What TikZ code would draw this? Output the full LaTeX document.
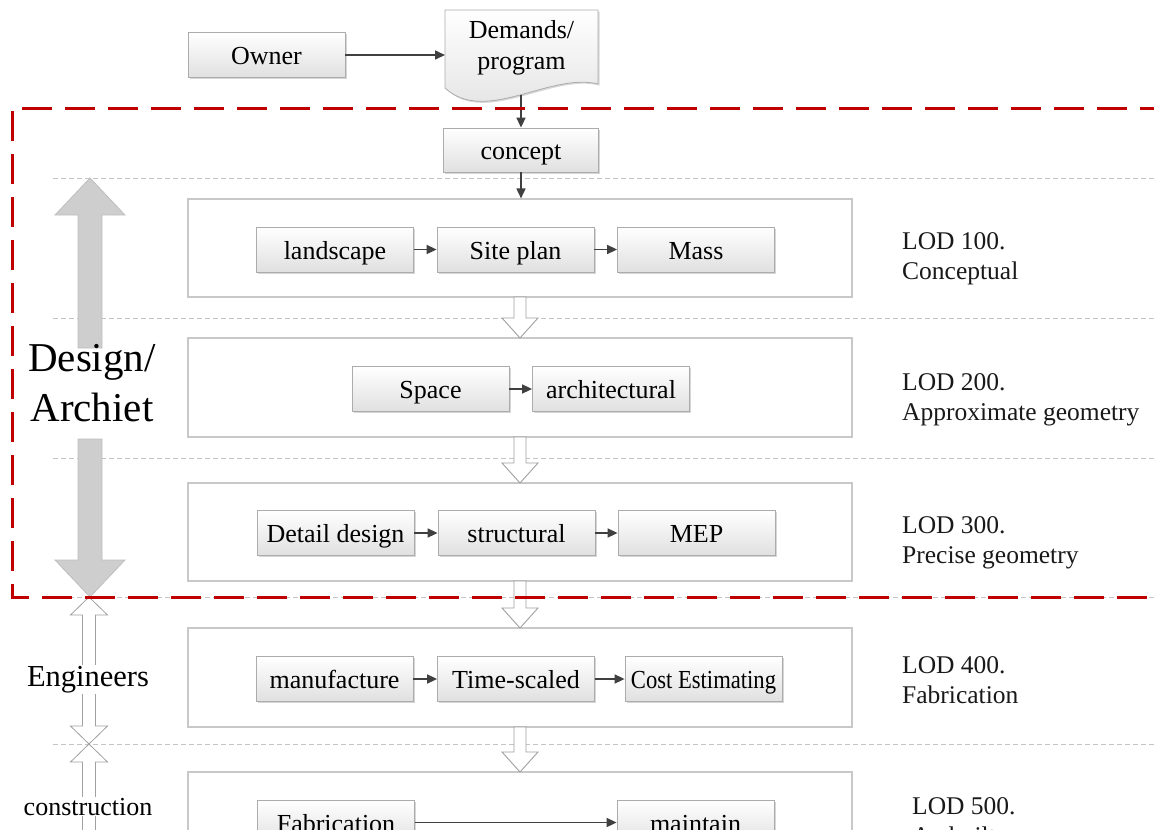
\documentclass[tikz,border=0pt]{standalone}
\usepackage{fontspec}
\setmainfont{Liberation Serif}
\usepackage{graphicx}
\usetikzlibrary{arrows.meta,shadows}

\definecolor{framered}{RGB}{192,0,0}
\definecolor{sepgray}{RGB}{196,196,196}
\definecolor{boxedge}{RGB}{172,172,172}
\definecolor{boxlow}{RGB}{224,224,224}
\definecolor{contedge}{RGB}{200,200,200}
\definecolor{arrowink}{RGB}{64,64,64}
\definecolor{bigarrow}{RGB}{206,206,206}
\definecolor{bigarrowedge}{RGB}{190,190,190}
\definecolor{hollowedge}{RGB}{160,160,160}

% block arrow pointing down between two stage frames
\newcommand\stagearrow[2]{%
  \draw[hollow] (514,#1) -- (526,#1) -- (526,#2-20) -- (538,#2-20) -- (520,#2)
    -- (502,#2-20) -- (514,#2-20) -- cycle;}

\begin{document}
\begin{tikzpicture}[x=1pt,y=-1pt,
  txt/.style={font=\fontsize{26}{31}\selectfont},
  stage/.style={draw=contedge, line width=1.1pt, fill=white, minimum width=664pt, inner sep=0pt},
  task/.style={txt, draw=boxedge, line width=0.8pt, top color=white, bottom color=boxlow,
    minimum width=157pt, minimum height=45pt, inner sep=0pt, text height=20pt, text depth=1pt,
    drop shadow={shadow xshift=1.5pt, shadow yshift=-1.5pt, fill=black!45, opacity=0.35}},
  docshape/.style={draw=boxedge, line width=0.8pt, top color=white, bottom color=boxlow,
    drop shadow={shadow xshift=1.5pt, shadow yshift=-1.5pt, fill=black!45, opacity=0.35}},
  flow/.style={draw=arrowink, line width=1.6pt, -{Triangle[length=10pt,width=9pt]}},
  hollow/.style={draw=hollowedge, line width=0.9pt, fill=white},
  thinarrow/.style={draw=hollowedge, line width=0.8pt, fill=white},
  levelsep/.style={draw=sepgray, line width=1pt, dash pattern=on 5pt off 3pt},
  lod/.style={font=\fontsize{25.5}{30}\selectfont, align=left, inner sep=0pt, anchor=north west, text=black!90},
  sidelabel/.style={fill=white, inner sep=1pt, anchor=base}
]
\useasboundingbox (0,0) rectangle (1154,830);
\clip (0,0) rectangle (1154,830);

% level separators
\foreach \yy in {178,318,458,597,744}
  \draw[levelsep] (53,\yy) -- (1154,\yy);

% stage frames
\node[stage, minimum height=98pt] (lod1) at (520,248) {};
\node[stage, minimum height=99pt] (lod2) at (520,387.5) {};
\node[stage, minimum height=98pt] (lod3) at (520,532) {};
\node[stage, minimum height=99pt] (lod4) at (520,677.5) {};
\node[stage, minimum height=99pt] (lod5) at (520,821.5) {};

% block arrows between the stages
\stagearrow{297}{338}
\stagearrow{437}{483}
\stagearrow{581}{628}
\stagearrow{727}{772}

% owner and programme
\node[task] (owner) at (266.5,55) {Owner};
\draw[docshape] (445,10) -- (598,10) -- (598,84)
  .. controls (550,72) and (485,125) .. (445,88) -- cycle;
\node[txt, align=center, inner sep=0pt] (dem) at (521.5,48) {Demands/\\program};
\coordinate (demb) at (521,95);
\node[task, minimum width=155pt, minimum height=44pt] (concept) at (521,150) {concept};
\coordinate (demin) at (445,55);
\draw[flow] (owner.east) -- (demin);
\draw[flow] (demb) -- (concept.north);
\draw[flow] (concept.south) -- (concept.south |- lod1.north);

% LOD 100
\node[task] (land) at (335,249.5) {landscape};
\node[task] (site) at (515.5,249.5) {Site plan};
\node[task] (mass) at (696,249.5) {Mass};
\draw[flow] (land.east) -- (site.west);
\draw[flow] (site.east) -- (mass.west);

% LOD 200
\node[task] (space) at (430.5,389) {Space};
\node[task] (arch) at (611,389) {architectural};
\draw[flow] (space.east) -- (arch.west);

% LOD 300
\node[task] (detail) at (335.5,533) {Detail design};
\node[task] (struct) at (516.5,533) {structural};
\node[task] (mep) at (696.5,533) {MEP};
\draw[flow] (detail.east) -- (struct.west);
\draw[flow] (struct.east) -- (mep.west);

% LOD 400
\node[task] (manu) at (334.5,679) {manufacture};
\node[task] (timesc) at (516,679) {Time-scaled};
\node[task] (cost) at (703.5,679) {\scalebox{0.87}[1]{Cost Estimating}};
\draw[flow] (manu.east) -- (timesc.west);
\draw[flow] (timesc.east) -- (cost.west);

% LOD 500
\node[task] (fab) at (336,822.5) {Fabrication};
\node[task] (maint) at (695.5,822.5) {maintain};
\draw[flow] (fab.east) -- (maint.west);

% design / architect span
\draw[fill=bigarrow, draw=bigarrowedge, line width=0.8pt]
  (90,178) -- (125,215) -- (102,215) -- (102,348) -- (78,348) -- (78,215) -- (55,215) -- cycle;
\draw[fill=bigarrow, draw=bigarrowedge, line width=0.8pt]
  (78,439) -- (102,439) -- (102,560) -- (125,560) -- (90,597) -- (55,560) -- (78,560) -- cycle;
\node[font=\fontsize{41}{50}\selectfont, align=center, inner sep=0pt, anchor=north] (role) at (92,344.5) {Design/\\Archiet};

% engineers and construction spans
\draw[thinarrow] (89,597) -- (107.5,615) -- (95.5,615) -- (95.5,726) -- (107.5,726) -- (89,744)
  -- (70.5,726) -- (82.5,726) -- (82.5,615) -- (70.5,615) -- cycle;
\draw[thinarrow] (89,744) -- (107.5,762) -- (95.5,762) -- (95.5,850) -- (82.5,850)
  -- (82.5,762) -- (70.5,762) -- cycle;
\node[sidelabel, font=\fontsize{30.5}{36}\selectfont] (eng) at (88,686) {Engineers};
\node[sidelabel, txt] (cons) at (88,815) {construction};

% design phase frame
\draw[framered, line width=3pt, dash pattern=on 30pt off 13pt]
  (1170,108) -- (12,108) -- (12,597) -- (1170,597);

% level of development labels
\node[lod] (t1) at (902,232) {LOD 100.\\Conceptual};
\node[lod] (t2) at (902,373) {LOD 200.\\Approximate geometry};
\node[lod] (t3) at (902,516) {LOD 300.\\Precise geometry};
\node[lod] (t4) at (902,656) {LOD 400.\\Fabrication};
\node[lod] (t5) at (912,797.8) {LOD 500.\\As-built};
\end{tikzpicture}
\end{document}
